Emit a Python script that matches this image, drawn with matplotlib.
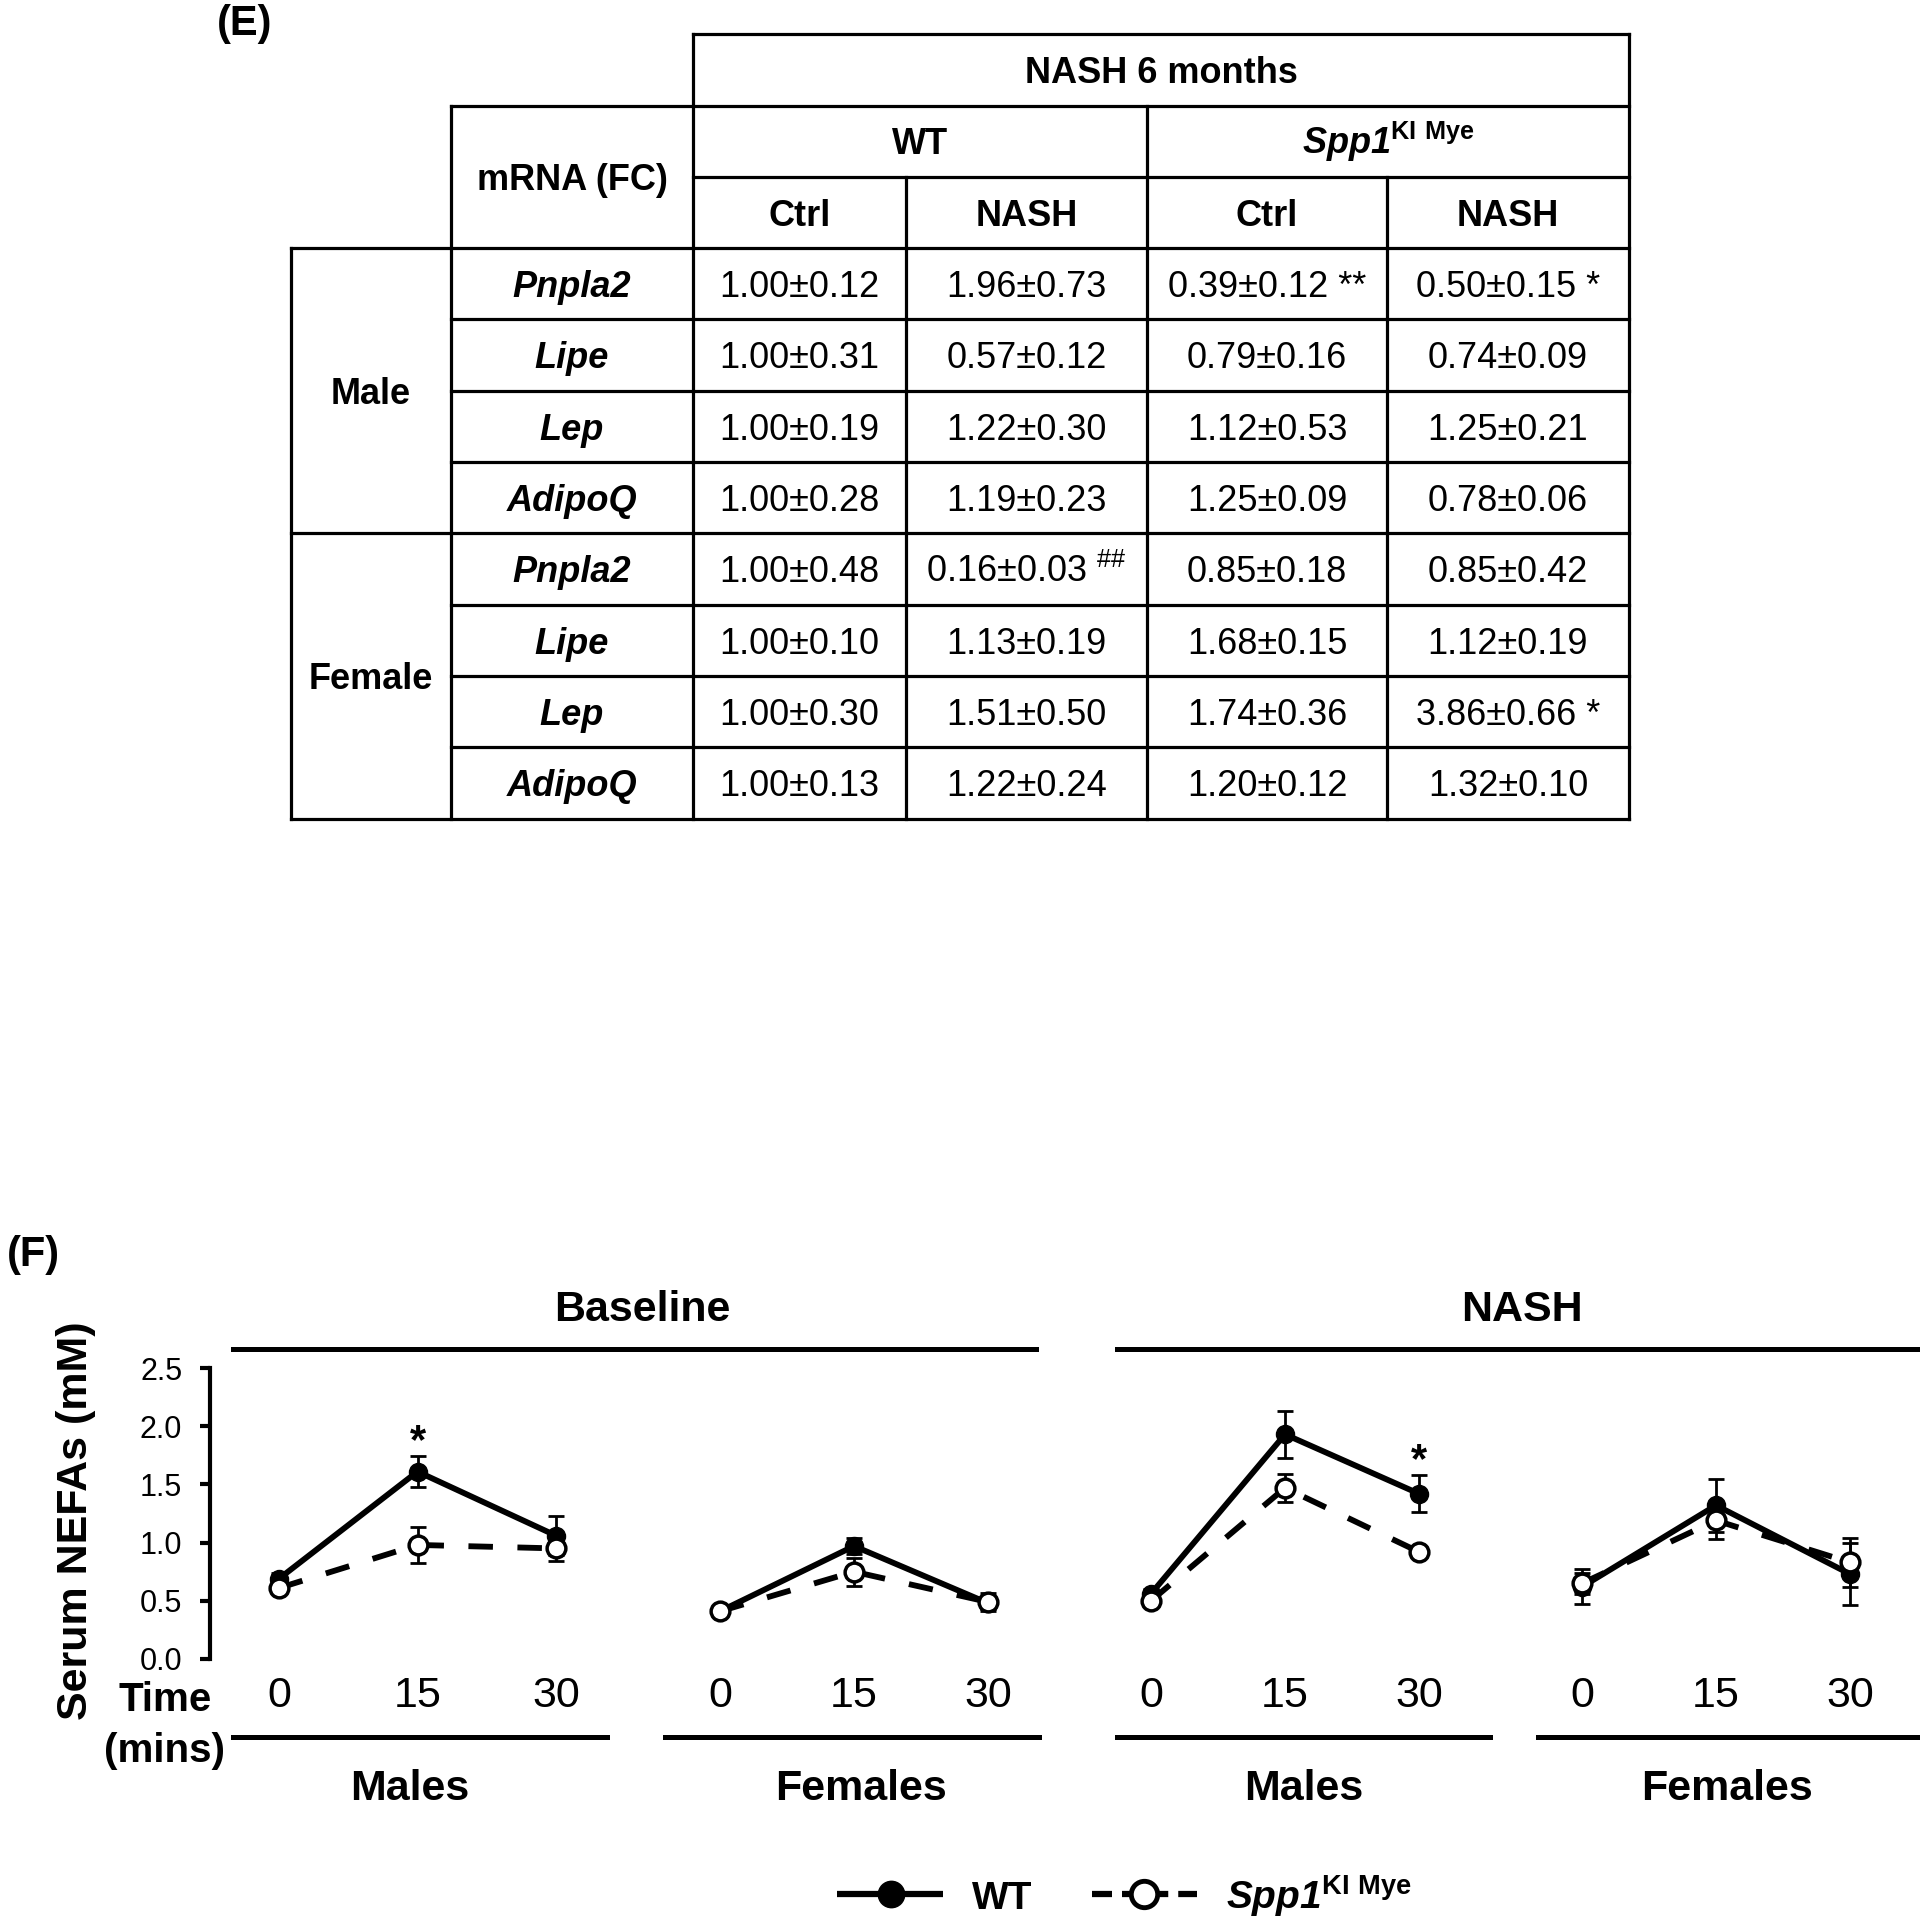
import matplotlib
matplotlib.use('Agg')
import matplotlib.pyplot as plt

plt.rcParams['font.family'] = ['Liberation Sans', 'DejaVu Sans']
plt.rcParams['mathtext.fontset'] = 'custom'
plt.rcParams['mathtext.rm'] = 'Liberation Sans'
plt.rcParams['mathtext.sf'] = 'Liberation Sans:italic:bold'
plt.rcParams['mathtext.bf'] = 'Liberation Sans:bold'

# ---- (E) table data ----
genes = ['Pnpla2', 'Lipe', 'Lep', 'AdipoQ']
sexes = ['Male', 'Female']
conditions = ['Ctrl', 'NASH', 'Ctrl', 'NASH']
male_vals = [
    ['1.00±0.12', '1.96±0.73', '0.39±0.12 **', '0.50±0.15 *'],
    ['1.00±0.31', '0.57±0.12', '0.79±0.16', '0.74±0.09'],
    ['1.00±0.19', '1.22±0.30', '1.12±0.53', '1.25±0.21'],
    ['1.00±0.28', '1.19±0.23', '1.25±0.09', '0.78±0.06'],
]
female_vals = [
    ['1.00±0.48', r'0.16±0.03 $^{\#\#}$', '0.85±0.18', '0.85±0.42'],
    ['1.00±0.10', '1.13±0.19', '1.68±0.15', '1.12±0.19'],
    ['1.00±0.30', '1.51±0.50', '1.74±0.36', '3.86±0.66 *'],
    ['1.00±0.13', '1.22±0.24', '1.20±0.12', '1.32±0.10'],
]
spp1_label = r'$\mathsf{Spp1}^{\mathbf{KI\ Mye}}$'

# ---- (F) serum NEFAs data ----
times = [0, 15, 30]
panel_sex = ['Males', 'Females', 'Males', 'Females']
wt_mean = [[0.69, 1.61, 1.06], [0.41, 0.97, 0.48], [0.56, 1.93, 1.42], [0.62, 1.32, 0.73]]
wt_sem = [[0.05, 0.135, 0.17], [0.03, 0.07, 0.05], [0.04, 0.20, 0.16], [0.15, 0.23, 0.27]]
ko_mean = [[0.61, 0.98, 0.95], [0.41, 0.75, 0.49], [0.50, 1.47, 0.92], [0.65, 1.19, 0.83]]
ko_sem = [[0.04, 0.155, 0.11], [0.03, 0.12, 0.08], [0.03, 0.12, 0.02], [0.09, 0.16, 0.21]]
sig_marks = [(0, 1), (2, 2)]  # (panel, time index) with * over WT

W, H = 1920, 1917
fig = plt.figure(figsize=(W / 100, H / 100), dpi=100)

# overlay axes in pixel coordinates for table and decorations
ov = fig.add_axes([0, 0, 1, 1])
ov.set_xlim(0, W)
ov.set_ylim(H, 0)
ov.axis('off')


def seg(x0, x1, y0, y1, lw=2.3):
    ov.plot([x0, x1], [y0, y1], color='black', lw=lw, solid_capstyle='projecting')


# table grid
col_x = [291, 451, 693, 906, 1147, 1387, 1629]
row_y = [34, 106, 177, 248, 319.5, 391, 462, 533.5, 605, 676, 747.5, 819]

seg(693, 1629, 34, 34)
seg(451, 1629, 106, 106)
seg(693, 1629, 177, 177)
for y in row_y[3:]:
    seg(291 if y in (248, 533.5, 819) else 451, 1629, y, y)
seg(291, 291, 248, 819)
seg(451, 451, 106, 819)
seg(693, 693, 34, 819)
seg(906, 906, 177, 819)
seg(1147, 1147, 106, 819)
seg(1387, 1387, 177, 819)
seg(1629, 1629, 34, 819)

fs_t = 26
off = 13  # baseline offset from cell centre


def ctext(x, y, s, **kw):
    ov.text(x, y + off, s, ha='center', va='baseline', fontsize=fs_t, **kw)


ov.text(245, 24, '(E)', fontsize=30, fontweight='bold', ha='center', va='center')
ctext((693 + 1629) / 2, 70, 'NASH 6 months', fontweight='bold')
ctext((693 + 1147) / 2, 141.5, 'WT', fontweight='bold')
ctext((1147 + 1629) / 2, 141.5, spp1_label)
ctext((451 + 693) / 2, 177, 'mRNA (FC)', fontweight='bold')
for j, c in enumerate(conditions):
    ctext((col_x[2 + j] + col_x[3 + j]) / 2, 212.5, c, fontweight='bold')

for s, (sex, vals) in enumerate(zip(sexes, [male_vals, female_vals])):
    top = row_y[3 + 4 * s]
    bot = row_y[7 + 4 * s]
    ctext((291 + 451) / 2, (top + bot) / 2, sex, fontweight='bold')
    for i, g in enumerate(genes):
        yc = (row_y[3 + 4 * s + i] + row_y[4 + 4 * s + i]) / 2
        ctext((451 + 693) / 2, yc, g, fontweight='bold', style='italic')
        for j, v in enumerate(vals[i]):
            ctext((col_x[2 + j] + col_x[3 + j]) / 2, yc, v)

# ---- (F) chart ----
ov.text(33, 1255, '(F)', fontsize=30, fontweight='bold', ha='center', va='center')
seg(233, 1036, 1349, 1349, lw=3.6)
seg(1117, 1925, 1349, 1349, lw=3.6)
ov.text(642, 1310, 'Baseline', fontsize=31, fontweight='bold', ha='center', va='center')
ov.text(1522, 1310, 'NASH', fontsize=31, fontweight='bold', ha='center', va='center')

bottom_lines = [(233, 607), (665, 1039), (1117, 1490), (1538, 1925)]
sex_x = [410, 861, 1304, 1727]
for (x0, x1), sx, lab in zip(bottom_lines, sex_x, panel_sex):
    seg(x0, x1, 1737, 1737, lw=3.6)
    ov.text(sx, 1789, lab, fontsize=31, fontweight='bold', ha='center', va='center')

ov.text(165, 1700, 'Time', fontsize=29, fontweight='bold', ha='center', va='center')
ov.text(164, 1751, '(mins)', fontsize=29, fontweight='bold', ha='center', va='center')
ov.text(76, 1521, 'Serum NEFAs (mM)', fontsize=31, fontweight='bold',
        ha='center', va='center', rotation=90)

# panel placement (pixel of t=0 and t=30)
px0 = [279, 720, 1151, 1582]
px30 = [556, 988, 1419, 1850]
y_top, y_bot = 1368, 1659

for p in range(4):
    s = (px30[p] - px0[p]) / 30.0
    xl = -(px0[p] - 210) / s if p == 0 else -7.5
    xr = 37.5
    left = px0[p] + xl * s
    ax = fig.add_axes([left / W, 1 - y_bot / H, (xr - xl) * s / W, (y_bot - y_top) / H])
    ax.patch.set_alpha(0)
    ax.set_xlim(xl, xr)
    ax.set_ylim(0, 2.5)
    for sp in ['top', 'right', 'bottom']:
        ax.spines[sp].set_visible(False)
    ax.set_xticks(times)
    ax.set_xticklabels([str(t) for t in times], fontsize=31)
    ax.tick_params(axis='x', length=0, pad=12)
    if p == 0:
        ax.spines['left'].set_linewidth(3)
        ax.set_yticks([0, 0.5, 1.0, 1.5, 2.0, 2.5])
        ax.set_yticklabels(['0.0', '0.5', '1.0', '1.5', '2.0', '2.5'], fontsize=22)
        ax.tick_params(axis='y', direction='out', length=7, width=3, pad=13)
    else:
        ax.spines['left'].set_visible(False)
        ax.set_yticks([])

    ax.errorbar(times, wt_mean[p], yerr=wt_sem[p], fmt='none', ecolor='black',
                elinewidth=2, capsize=6, capthick=2, zorder=2, clip_on=False)
    ax.plot(times, wt_mean[p], color='black', lw=4.2, marker='o', ms=13,
            mfc='black', mec='black', zorder=3, clip_on=False)
    ax.errorbar(times, ko_mean[p], yerr=ko_sem[p], fmt='none', ecolor='black',
                elinewidth=2, capsize=6, capthick=2, zorder=4, clip_on=False)
    ax.plot(times, ko_mean[p], color='black', lw=4.2, dashes=(4.2, 4.2),
            marker='o', ms=13.5, mfc='white', mec='black', mew=2.5, zorder=5, clip_on=False)

    for sp_, ti in sig_marks:
        if sp_ == p:
            ax.annotate('*', (times[ti], wt_mean[p][ti] + wt_sem[p][ti]),
                        xytext=(0, 2), textcoords='offset points', ha='center',
                        va='baseline', fontsize=30, fontweight='bold')

# legend
ly = 1894
ov.plot([837, 943], [ly, ly], color='black', lw=4.5, solid_capstyle='butt')
ov.plot([891], [ly], marker='o', ms=19, color='black')
ov.text(972, ly + 15, 'WT', fontsize=28, fontweight='bold', ha='left', va='baseline')
ov.plot([1092, 1197], [ly, ly], color='black', lw=4.5, dashes=(3.2, 1.6, 7.4, 1.6, 3.2, 5))
ov.plot([1144], [ly], marker='o', ms=19, mfc='white', mec='black', mew=3.5)
ov.text(1226, ly + 15, spp1_label, fontsize=28, ha='left', va='baseline')

fig.savefig('out.png', dpi=100)
